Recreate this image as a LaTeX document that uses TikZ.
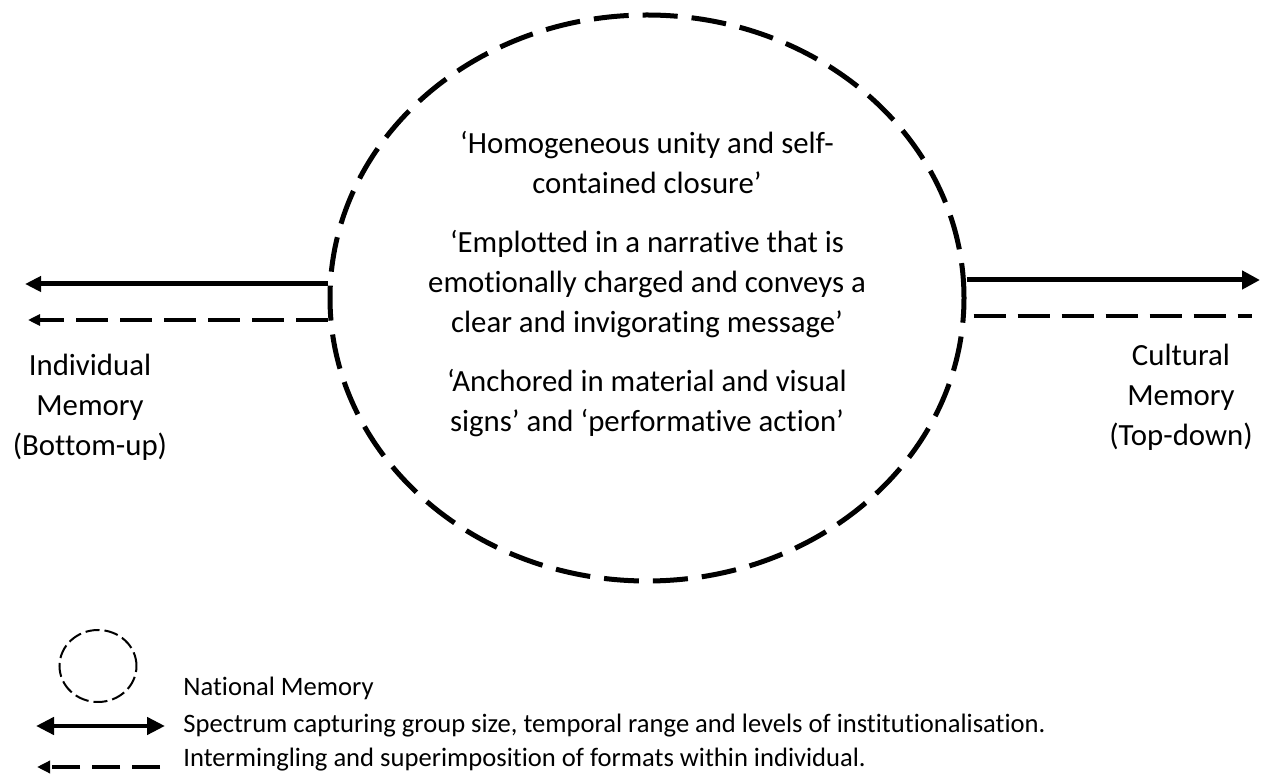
\documentclass[tikz,border=0pt]{standalone}
\usepackage{fontspec}
\setmainfont[Ligatures = NoCommon]{Carlito}
\usetikzlibrary{arrows.meta,shapes.geometric,positioning}

\begin{document}
\begin{tikzpicture}[x = 0.5pt, y = -0.5pt,
    every node/.style = {font = \fontsize{15.4}{20}\selectfont, align = center, inner sep = 0pt},
    memory/.style = {shape = ellipse, draw, line width = 2.5pt, dash pattern = on 17.5pt off 7pt},
    spectrum/.style = {line width = 2.5pt, -{Triangle[length = 8pt, width = 7.5pt]}},
    mingle/.style = {line width = 2pt, dash pattern = on 16pt off 6pt},
    keytext/.style = {anchor = west, font = \fontsize{13.3}{16}\selectfont}]
    \useasboundingbox (0,0) rectangle (1265,774);
    % national memory
    \node[memory, minimum width = 317pt, minimum height = 283pt] (natmem) at (647,298) {};
    \node (quoteB) at (647,284) {‘Emplotted in a narrative that is\\emotionally charged and conveys a\\clear and invigorating message’};
    \node[above = 18pt of quoteB] (quoteA) {‘Homogeneous unity and self-\\contained closure’};
    \node[below = 15.5pt of quoteB] (quoteC) {‘Anchored in material and visual\\signs’ and ‘performative action’};
    % the two ends
    \node (indiv) at (90,407) {Individual\\Memory\\(Bottom-up)};
    \node (cultural) at (1181,397) {Cultural\\Memory\\(Top-down)};
    \coordinate (indivS) at (25,284);
    \coordinate (indivD) at (28,320);
    \coordinate (cultS) at (1260,280);
    \coordinate (cultD) at (1252,316);
    \draw[spectrum] (natmem.west |- indivS) -- (indivS);
    \draw[mingle, -{Triangle[length = 6pt, width = 5.5pt]}] (natmem.west |- indivD) -- (indivD);
    \draw[spectrum, -{Triangle[length = 9pt, width = 9pt]}] (natmem.east |- cultS) -- (cultS);
    \draw[mingle] ([xshift = 3.5pt]natmem.east |- cultD) -- (cultD);
    % key
    \node[shape = ellipse, draw, line width = 1pt, dash pattern = on 7pt off 2.5pt,
        minimum width = 38.5pt, minimum height = 36pt] (keyNM) at (98,666) {};
    \node[keytext] (keyNMlabel) at (183,688) {National Memory};
    \coordinate (keySpecL) at (36,726);
    \coordinate (keySpecR) at (165,726);
    \draw[line width = 2.2pt, {Triangle[length = 9pt, width = 8.5pt]}-{Triangle[length = 9pt, width = 8.5pt]}]
        (keySpecL) -- (keySpecR);
    \node[keytext] (keySpecLabel) at (183,726) {Spectrum capturing group size, temporal range and levels of institutionalisation.};
    \coordinate (keyMingleL) at (37,767);
    \coordinate (keyMingleR) at (160,767);
    \draw[mingle, dash pattern = on 14pt off 6pt, -{Triangle[length = 6.5pt, width = 6pt]}] (keyMingleR) -- (keyMingleL);
    \node[keytext] (keyMingleLabel) at (183,760) {Intermingling and superimposition of formats within individual.};
\end{tikzpicture}
\end{document}
